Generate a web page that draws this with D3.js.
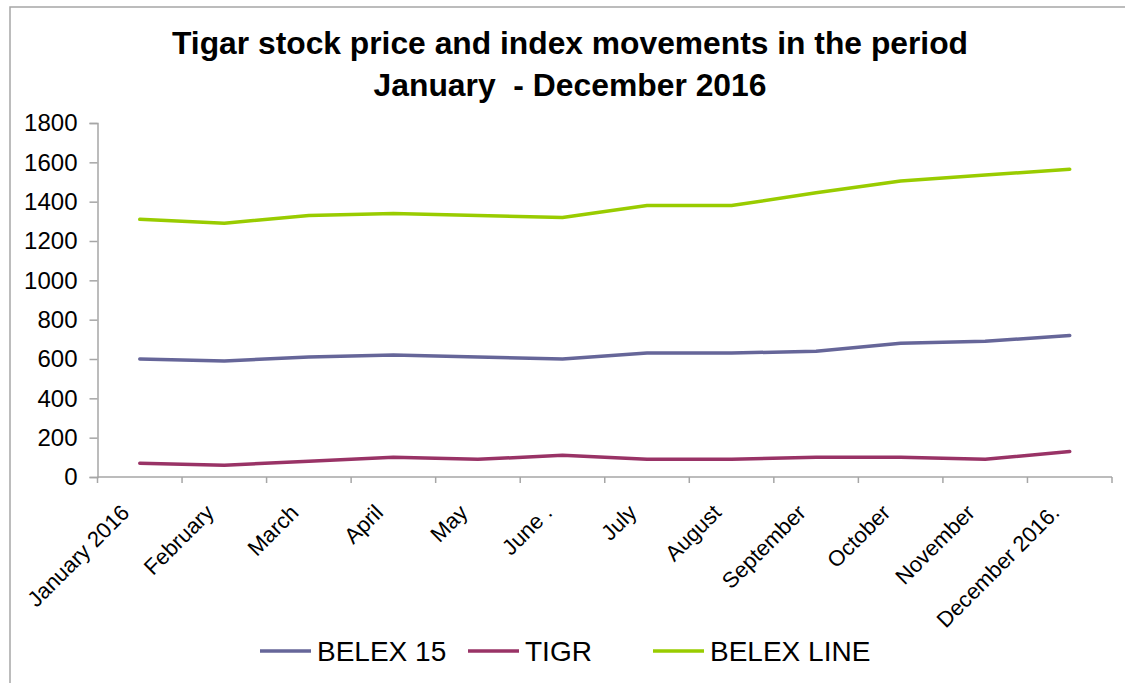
<!DOCTYPE html>
<html>
<head>
<meta charset="utf-8">
<script src="https://cdn.jsdelivr.net/npm/d3@7"></script>
<style>
  body { margin: 0; background: #fff; }
  text { font-family: "Liberation Sans", Arial, sans-serif; fill: #000; }
</style>
</head>
<body>
<svg id="chart" width="1125" height="683"></svg>
<script>
var months = ["January 2016", "February", "March", "April", "May", "June .",
              "July", "August", "September", "October", "November", "December 2016."];
var belex15 = [600, 590, 610, 620, 610, 600, 630, 630, 640, 680, 690, 720];
var tigr = [70, 60, 80, 100, 90, 110, 90, 90, 100, 100, 90, 130];
var belexLine = [1310, 1290, 1330, 1340, 1330, 1320, 1380, 1380, 1445, 1505, 1535, 1565];
var yTicks = [0, 200, 400, 600, 800, 1000, 1200, 1400, 1600, 1800];
var seriesNames = ["BELEX 15", "TIGR", "BELEX LINE"];
var seriesColors = ["#666699", "#993366", "#99CC00"];

var svg = d3.select("#chart");

// outer frame (runs off the right/bottom edge like the original)
svg.append("rect")
    .attr("x", 10).attr("y", 7)
    .attr("width", 1200).attr("height", 800)
    .attr("fill", "none")
    .attr("stroke", "#a6a6a6")
    .attr("stroke-width", 1.5);

// title
var title = svg.append("g").style("font-weight", "bold").style("font-size", "32px");
title.append("text")
    .attr("x", 570).attr("y", 54)
    .attr("text-anchor", "middle")
    .attr("textLength", 796).attr("lengthAdjust", "spacingAndGlyphs")
    .text("Tigar stock price and index movements in the period");
title.append("text")
    .attr("x", 570).attr("y", 96)
    .attr("text-anchor", "middle")
    .attr("textLength", 393).attr("lengthAdjust", "spacingAndGlyphs")
    .style("white-space", "pre")
    .text("January  - December 2016");

var margin = {top: 123, left: 97.5};
var width = 1112 - margin.left;
var height = 477 - margin.top;

var x = d3.scaleBand().domain(months).range([0, width]);
var y = d3.scaleLinear().domain([0, 1800]).range([height, 0]);

var g = svg.append("g")
    .attr("transform", "translate(" + margin.left + "," + margin.top + ")");

// y axis
var yAxis = g.append("g")
    .call(d3.axisLeft(y).tickValues(yTicks).tickSize(8).tickPadding(12).tickFormat(d3.format("d")));
yAxis.selectAll("text").style("font-size", "24px").style("font-family", "Liberation Sans, Arial, sans-serif").attr("fill", "#000");
yAxis.selectAll("line, path").attr("stroke", "#a6a6a6").attr("stroke-width", 1.5);

// x axis: ticks at band boundaries
var bounds = d3.range(months.length + 1).map(function(i) { return i * x.step(); });
var xAxis = g.append("g").attr("transform", "translate(0," + height + ")");
xAxis.append("line")
    .attr("x1", 0).attr("x2", width)
    .attr("stroke", "#a6a6a6").attr("stroke-width", 1.5);
xAxis.selectAll(".tick")
    .data(bounds)
    .enter().append("line")
    .attr("x1", function(d) { return d; }).attr("x2", function(d) { return d; })
    .attr("y1", 0).attr("y2", 6)
    .attr("stroke", "#a6a6a6").attr("stroke-width", 1.5);
xAxis.selectAll(".lbl")
    .data(months)
    .enter().append("text")
    .attr("text-anchor", "end")
    .style("font-size", "22px")
    .attr("transform", function(d) {
        return "translate(" + (x(d) + x.bandwidth() / 2 - 9) + ",37) rotate(-45)";
    })
    .text(function(d) { return d; });

// lines
var allSeries = [belex15, tigr, belexLine];
var line = d3.line()
    .x(function(d, i) { return x(months[i]) + x.bandwidth() / 2; })
    .y(function(d) { return y(d); });

g.selectAll(".series")
    .data(allSeries)
    .enter().append("path")
    .attr("fill", "none")
    .attr("stroke", function(d, i) { return seriesColors[i]; })
    .attr("stroke-width", 3.5)
    .attr("stroke-linecap", "round")
    .attr("stroke-linejoin", "round")
    .attr("d", line);

// legend
var legendX = [260, 468, 653];
var legend = svg.append("g").selectAll("g")
    .data(seriesNames)
    .enter().append("g")
    .attr("transform", function(d, i) { return "translate(" + legendX[i] + ",651)"; });
legend.append("line")
    .attr("x1", 0).attr("x2", 51)
    .attr("stroke", function(d, i) { return seriesColors[i]; })
    .attr("stroke-width", 3.5);
legend.append("text")
    .attr("x", 57).attr("y", 10)
    .style("font-size", "28px")
    .text(function(d) { return d; });
</script>
</body>
</html>
